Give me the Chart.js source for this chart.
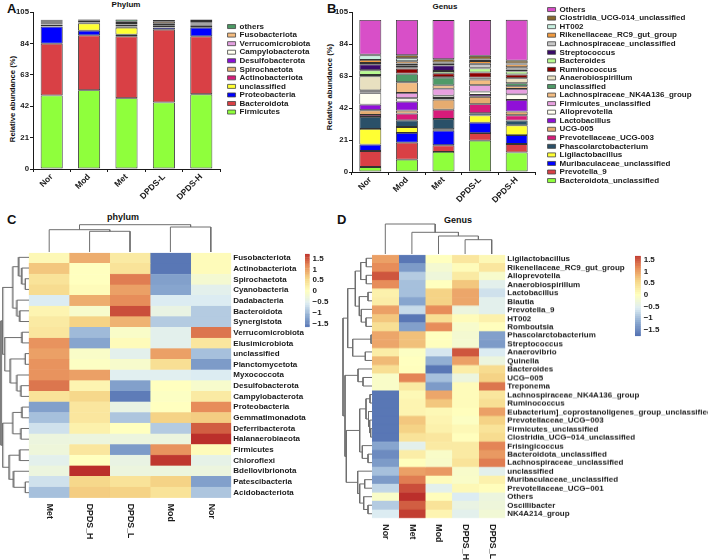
<!DOCTYPE html>
<html>
<head>
<meta charset="utf-8">
<script src="https://cdn.jsdelivr.net/npm/chart.js@4"></script>
<style>
  body { margin: 0; background: #fff; width: 708px; height: 560px; position: relative; overflow: hidden;
         font-family: "Liberation Sans", Arial, sans-serif; color: #111; }
  canvas { position: absolute; }
  .letter { position: absolute; font-size: 13px; font-weight: bold; line-height: 13px; }
  .title { position: absolute; font-weight: bold; line-height: 10px; transform: translateX(-50%); }
  .ylabel { position: absolute; font-size: 7.7px; font-weight: bold; line-height: 10px; white-space: nowrap;
            transform: translate(-50%, -50%) rotate(-90deg); }
</style>
</head>
<body>
<div class="letter" style="left:7px;top:2px">A</div>
<div class="letter" style="left:327px;top:2px">B</div>
<div class="letter" style="left:7px;top:213px">C</div>
<div class="letter" style="left:337px;top:213px">D</div>
<div class="title" style="left:126px;top:0px;font-size:8px">Phylum</div>
<div class="title" style="left:445px;top:2px;font-size:8px">Genus</div>
<div class="title" style="left:123px;top:212px;font-size:9px">phylum</div>
<div class="title" style="left:458px;top:215px;font-size:9px">Genus</div>
<div class="ylabel" style="left:13px;top:99px">Relative abundance (%)</div>
<div class="ylabel" style="left:330px;top:87px">Relative abundance (%)</div>
<script>
const groups = ["Nor", "Mod", "Met", "DPDS-L", "DPDS-H"];
const abundanceTicks = [0, 21, 42, 63, 84, 105];

// stacked bars, bottom of the stack first
const phylumNames = ["Firmicutes", "Bacteroidota", "Proteobacteria", "unclassified", "Actinobacteriota", "Spirochaetota",
  "Desulfobacterota", "Campylobacterota", "Verrucomicrobiota", "Fusobacteriota", "others"];
const phylumColors = ["#8fff3c", "#d94045", "#0000ff", "#ffff33", "#d81b7a", "#e3ad72", "#8b10d8", "#fffff0", "#e3a0e0", "#f4bc80", "#4c9a64"];
const phylumValues = [
  [49.2, 52.7, 47.4, 44.5, 50.0],
  [34.6, 36.7, 41.3, 48.7, 38.7],
  [11.4, 3.1, 1.1, 1.3, 5.8],
  [0.1, 4.9, 4.7, 0.1, 1.3],
  [1.2, 0.3, 0.8, 1.0, 0.8],
  [0.3, 0.3, 0.4, 0.5, 0.3],
  [0.3, 0.3, 1.0, 0.2, 0.4],
  [0.7, 0.6, 0.3, 0.6, 0.4],
  [0.7, 0.6, 0.7, 0.5, 0.5],
  [0.7, 0.3, 0.7, 1.4, 0.7],
  [0.6, 0.3, 1.6, 0.8, 1.1]
];

const genusNames = ["Bacteroidota_unclassified", "Prevotella_9", "Muribaculaceae_unclassified", "Ligilactobacillus",
  "Phascolarctobacterium", "Prevotellaceae_UCG-003", "UCG-005", "Lactobacillus", "Alloprevotella", "Firmicutes_unclassified",
  "Lachnospiraceae_NK4A136_group", "unclassified", "Anaerobiospirillum", "Ruminococcus", "Bacteroides", "Streptococcus",
  "Lachnospiraceae_unclassified", "Rikenellaceae_RC9_gut_group", "HT002", "Clostridia_UCG-014_unclassified", "Others"];
const genusColors = ["#8fff3c", "#d94045", "#0000ff", "#ffff33", "#2a5068", "#d81b7a", "#e6ac70", "#9010d8", "#fffff0", "#e8a0e0",
  "#f2bc82", "#4f9a68", "#e8e0c0", "#8c0000", "#b8fa90", "#3a0a6a", "#c8c8c8", "#f09a40", "#c8f0e0", "#8a6a2e", "#d84fc8"];
const genusValues = [
  [3.3, 8.1, 13.2, 20.6, 12.9],
  [10.5, 11.2, 4.4, 5.0, 5.5],
  [4.2, 6.4, 9.6, 6.8, 5.9],
  [10.3, 3.9, 0.9, 4.8, 6.4],
  [7.9, 4.4, 6.8, 1.5, 3.1],
  [1.3, 4.4, 6.1, 5.9, 3.5],
  [3.1, 2.0, 6.6, 4.8, 2.4],
  [3.7, 5.9, 1.1, 1.3, 7.7],
  [7.5, 2.2, 1.5, 2.2, 3.7],
  [0.4, 3.5, 4.6, 4.2, 3.5],
  [0.9, 7.0, 2.2, 3.7, 1.8],
  [0.6, 5.3, 5.0, 0.9, 2.0],
  [9.2, 0.4, 0.4, 0.4, 3.3],
  [0.9, 3.3, 2.5, 3.4, 2.4],
  [3.1, 0.9, 1.5, 2.6, 2.0],
  [3.9, 1.3, 3.7, 0.4, 1.3],
  [0.9, 1.1, 1.1, 2.6, 1.5],
  [2.0, 1.5, 0.4, 1.8, 1.8],
  [3.0, 2.0, 0.4, 1.1, 0.7],
  [0.4, 2.0, 2.2, 2.4, 1.8],
  [22.9, 23.2, 25.7, 23.5, 26.9]
];

// heatmaps, one row per taxon, z scores
const heatPhylumCols = ["Met", "DPDS_H", "DPDS_L", "Mod", "Nor"];
const heatPhylumRows = ["Fusobacteriota", "Actinobacteriota", "Spirochaetota", "Cyanobacteria", "Dadabacteria", "Bacteroidota",
  "Synergistota", "Verrucomicrobiota", "Elusimicrobiota", "unclassified", "Planctomycetota", "Myxococcota", "Desulfobacterota",
  "Campylobacterota", "Proteobacteria", "Gemmatimonadota", "Deferribacterota", "Halanaerobiaeota", "Firmicutes", "Chloroflexi",
  "Bdellovibrionota", "Patescibacteria", "Acidobacteriota"];
const heatPhylumZ = [
  [0.1, 0.9, 0.3, -1.7, 0.05],
  [0.7, 0, 0.4, -1.7, 0.05],
  [0.4, 0, 1.25, -1.3, -0.2],
  [0.5, 0.05, 1.0, -1.25, -0.5],
  [-0.6, 0.9, 1.15, -0.6, -0.6],
  [0.15, -0.15, 1.55, -0.4, -0.9],
  [0.3, 0.6, 0.85, -0.9, -0.9],
  [0.35, -1.05, -0.1, -0.5, 1.3],
  [1.1, -1.25, 0.05, -0.5, 0.35],
  [1.0, -0.1, -0.5, 1.0, -1.0],
  [1.1, -0.05, -0.15, 0.45, -1.35],
  [1.1, 1.0, -0.55, -0.55, -0.6],
  [1.3, 0.15, -1.3, 0, -0.15],
  [0.4, 0.55, -1.65, -0.05, 0.3],
  [-1.3, 0.35, -0.4, 0, 1.15],
  [-1.0, 0.35, -0.95, 0.6, 0.65],
  [-0.7, 0.2, 0, -0.9, 1.45],
  [-0.35, -0.35, -0.35, -0.35, 1.75],
  [-0.3, 0.35, -1.35, 1.1, 0.05],
  [-0.5, 0, -0.4, 1.7, -0.45],
  [-0.35, 1.75, -0.35, -0.35, -0.35],
  [-0.7, 0.55, 0.4, 0.6, -1.3],
  [-1.0, 0.65, 0.6, 0.4, -0.95]
];

const heatGenusCols = ["Nor", "Met", "Mod", "DPDS_H", "DPDS_L"];
const heatGenusRows = ["Ligilactobacillus", "Rikenellaceae_RC9_gut_group", "Alloprevotella", "Anaerobiospirillum", "Lactobacillus",
  "Blautia", "Prevotella_9", "HT002", "Romboutsia", "Phascolarctobacterium", "Streptococcus", "Anaerovibrio", "Quinella",
  "Bacteroides", "UCG−005", "Treponema", "Lachnospiraceae_NK4A136_group", "Ruminococcus",
  "Eubacterium]_coprostanoligenes_group_unclassified", "Prevotellaceae_UCG−003", "Firmicutes_unclassified",
  "Clostridia_UCG−014_unclassified", "Frisingicoccus", "Bacteroidota_unclassified", "Lachnospiraceae_unclassified", "unclassified",
  "Muribaculaceae_unclassified", "Prevotellaceae_UCG−001", "Others", "Oscillibacter", "NK4A214_group"];
const heatGenusZ = [
  [1.0, -1.7, 0, 0.35, 0.1],
  [1.15, -1.35, -0.2, 0.05, 0.35],
  [1.5, -0.9, -0.3, 0.3, -0.15],
  [1.15, -1.0, 0, 0.7, -0.5],
  [0.2, -1.0, 0.6, 0.95, -0.7],
  [0.25, -1.25, 0.6, 0.95, -0.5],
  [1.0, -0.75, 1.15, -0.35, -0.5],
  [0.7, -1.7, 0.45, 0.05, 0.2],
  [0.45, -1.3, 1.15, -0.15, 0.02],
  [0.95, 0.75, 0, -0.2, -1.3],
  [0.95, 0.75, 0.02, -0.2, -1.35],
  [0.25, -0.05, -0.65, 1.5, -0.6],
  [0.8, 0, -1.15, 1.0, -0.35],
  [0.45, 0.02, -1.7, 0.25, 0.5],
  [-0.1, 1.2, -1.0, -0.35, 0.6],
  [-0.1, 0.3, -1.35, 0.05, 1.3],
  [-1.7, 0.1, 0.95, 0.05, 0.35],
  [-1.7, 0.15, 0.7, 0.05, 0.45],
  [-1.7, 0.15, 0.1, 0.02, 1.0],
  [-1.7, 0.7, 0.15, -0.05, 0.6],
  [-1.7, 0.6, 0.2, 0.1, 0.4],
  [-1.7, 0.4, 0.35, 0.02, 0.5],
  [-1.25, -0.5, 0.3, 0.3, 1.2],
  [-1.5, 0.25, -0.1, 0.3, 1.05],
  [-1.35, 0.02, -0.12, 0.4, 1.25],
  [-1.0, 1.0, 1.05, -0.12, -0.5],
  [-1.35, 1.25, 0.05, -0.1, 0.2],
  [-0.8, 1.55, -0.5, 0.1, 0.03],
  [-0.1, 1.75, 0.03, -0.6, -0.35],
  [-0.9, 1.45, 0.4, -0.4, -0.3],
  [-0.6, 1.65, 0.15, -0.5, -0.25]
];

// dendrograms as merge lists like hclust: positive = leaf number, negative = earlier merge, last = height
const phylumColMerges = [[2, 3, 20.7], [1, -1, 22.3], [4, 5, 25], [-2, -3, 27.3]];
const genusColMerges = [[4, 5, 14.3], [3, -1, 18], [2, -2, 21.7], [1, -3, 30]];
const phylumRowMerges = [[3, 4, 3.7], [2, -1, 7.3], [1, -2, 10.3], [6, 7, 9.3], [5, -4, 12], [-3, -5, 16], [8, 9, 7], [10, 11, 3.7],
  [13, 14, 8], [12, -9, 12], [-8, -10, 18.7], [-7, -11, 24], [-6, -12, 26], [15, 16, 7], [17, 18, 8], [-14, -15, 16], [19, 20, 9.3],
  [22, 23, 3.7], [21, -18, 15.3], [-17, -19, 19.7], [-16, -20, 26], [-13, -21, 27.7]];
const genusRowMerges = [[1, 2, 5.7], [3, 4, 5.7], [-1, -2, 11.3], [5, 6, 4], [8, 9, 6], [7, -5, 10.7], [-4, -6, 12.7], [-3, -7, 16.7],
  [10, 11, 1], [12, 13, 6.7], [-9, -10, 19.3], [-8, -11, 24.3], [15, 16, 9], [14, -13, 14], [21, 22, 1.3], [20, -15, 2.3], [19, -16, 3.5],
  [17, 18, 2], [-18, -17, 6], [24, 25, 4], [23, -20, 9.7], [-19, -21, 12.3], [30, 31, 4], [29, -23, 8.3], [27, 28, 7.3], [-25, -24, 12.3],
  [26, -26, 14.3], [-22, -27, 25.7], [-14, -28, 27], [-12, -29, 29]];

const colorbarTicks = [1.5, 1, 0.5, 0, -0.5, -1, -1.5];
const heatStops = [-1.75, -1.17, -0.58, 0, 0.58, 1.17, 1.75];
const heatColors = [[84, 114, 178], [143, 173, 210], [223, 238, 243], [255, 255, 191], [246, 214, 136], [230, 138, 88], [187, 47, 43]];

const FONT = '"Liberation Sans", Arial, sans-serif';
const INK = "#1a1a1a";
Chart.defaults.animation = false;
Chart.defaults.responsive = false;
Chart.defaults.devicePixelRatio = 1;
Chart.defaults.font.family = FONT;
Chart.defaults.color = INK;
Chart.defaults.plugins.legend.display = false;
Chart.defaults.plugins.tooltip.enabled = false;

function addCanvas(left, top, width, height) {
  const canvas = document.createElement("canvas");
  canvas.width = width;
  canvas.height = height;
  canvas.style.left = left + "px";
  canvas.style.top = top + "px";
  canvas.style.width = width + "px";
  canvas.style.height = height + "px";
  document.body.appendChild(canvas);
  return canvas;
}

function zColor(z) {
  let i = 0;
  while (i < heatStops.length - 2 && z > heatStops[i + 1]) i++;
  const t = Math.min(1, Math.max(0, (z - heatStops[i]) / (heatStops[i + 1] - heatStops[i])));
  const rgb = heatColors[i].map((c, k) => Math.round(c + (heatColors[i + 1][k] - c) * t));
  return "rgb(" + rgb.join(",") + ")";
}

function renderStack(box, names, colors, values, axisWidth, barFraction) {
  new Chart(addCanvas(box.left, 0, box.width, 205), {
    type: "bar",
    data: {
      labels: groups,
      datasets: names.map((name, i) => ({
        label: name,
        data: values[i],
        backgroundColor: colors[i],
        borderColor: "#333",
        borderWidth: 0.9,
        borderSkipped: false,
        barPercentage: barFraction,
        categoryPercentage: 1
      }))
    },
    options: {
      layout: { padding: { top: box.top, right: box.right } },
      scales: {
        x: {
          stacked: true,
          grid: { drawOnChartArea: false, tickLength: 3, color: INK },
          border: { color: INK, width: 1 },
          ticks: { font: { size: 8.5, weight: "bold" }, minRotation: 45, maxRotation: 45, padding: 0 },
          afterFit: scale => { scale.height = 205 - box.bottom; }
        },
        y: {
          stacked: true,
          min: 0,
          max: 105,
          grid: { drawOnChartArea: false, tickLength: 3, color: INK },
          border: { color: INK, width: 1 },
          ticks: { font: { size: 7.8, weight: "bold" }, padding: 1 },
          afterBuildTicks: scale => { scale.ticks = abundanceTicks.map(v => ({ value: v })); },
          afterFit: scale => { scale.width = axisWidth; }
        }
      }
    }
  });
}

// legend gets its own small chart so the bars keep a fixed plot area
function renderLegend(left, top, height, names, colors) {
  new Chart(addCanvas(left, top, 300, height), {
    type: "bar",
    data: {
      datasets: names.map((name, i) => ({ label: name, data: [], backgroundColor: colors[i], borderColor: "#444", borderWidth: 0.8 }))
    },
    options: {
      scales: { x: { display: false }, y: { display: false } },
      plugins: {
        legend: {
          display: true,
          position: "left",
          align: "start",
          reverse: true,
          onClick: null,
          labels: { boxWidth: 8, boxHeight: 4, padding: 0.55, color: INK, font: { size: 8, weight: "bold", lineHeight: 1 } }
        }
      }
    }
  });
}

const columnLabels = {
  id: "columnLabels",
  afterDraw(chart) {
    const ctx = chart.ctx;
    ctx.save();
    ctx.font = "bold 8.8px " + FONT;
    ctx.fillStyle = INK;
    ctx.textAlign = "left";
    ctx.textBaseline = "middle";
    chart.data.datasets.forEach((ds, c) => {
      ctx.save();
      ctx.translate(chart.scales.x.getPixelForValue(c + 0.5), chart.chartArea.bottom + 6);
      ctx.rotate(Math.PI / 2);
      ctx.fillText(ds.label, 0, 0);
      ctx.restore();
    });
    ctx.restore();
  }
};

function renderHeat(area, rows, cols, z, fontSize) {
  const top = area.top - 6;
  new Chart(addCanvas(0, top, 708, 560 - top), {
    type: "bar",
    data: {
      labels: rows,
      datasets: cols.map((col, c) => {
        const cellColors = rows.map((_, r) => zColor(z[r][c]));
        return {
          label: col,
          data: rows.map(() => 1),
          backgroundColor: cellColors,
          borderColor: cellColors,
          borderWidth: 0.4,
          borderSkipped: false,
          barPercentage: 1,
          categoryPercentage: 1
        };
      })
    },
    options: {
      indexAxis: "y",
      layout: { padding: { left: area.left, top: 6, bottom: 560 - area.bottom } },
      scales: {
        x: { stacked: true, display: false, min: 0, max: cols.length },
        y: {
          stacked: true,
          position: "right",
          grid: { display: false, drawTicks: false },
          border: { display: false },
          ticks: { autoSkip: false, padding: 2, font: { size: fontSize, weight: "bold" }, color: INK },
          afterFit: scale => { scale.width = 708 - area.right; }
        }
      }
    },
    plugins: [columnLabels]
  });
}

function dendroPaths(merges, vertical) {
  const nodes = [];
  const lookup = id => (id > 0 ? { pos: id - 0.5, h: 0 } : nodes[-id - 1]);
  return merges.map(([a, b, h]) => {
    const left = lookup(a);
    const right = lookup(b);
    nodes.push({ pos: (left.pos + right.pos) / 2, h: h });
    const path = [[left.pos, left.h], [left.pos, h], [right.pos, h], [right.pos, right.h]];
    return {
      data: path.map(([pos, height]) => (vertical ? { x: height, y: pos } : { x: pos, y: height })),
      showLine: true,
      pointRadius: 0,
      borderColor: "#6e6e6e",
      borderWidth: 1,
      clip: false
    };
  });
}

function renderDendro(box, merges, count, vertical) {
  const posScale = { display: false, min: 0, max: count, reverse: vertical };
  const heightScale = { display: false, min: 0, max: vertical ? box.width : box.height, reverse: vertical };
  new Chart(addCanvas(box.left, box.top, box.width, box.height), {
    type: "scatter",
    data: { datasets: dendroPaths(merges, vertical) },
    options: { scales: vertical ? { x: heightScale, y: posScale } : { x: posScale, y: heightScale } }
  });
}

function renderColorbar(box, zMin, zMax) {
  const steps = [];
  for (let i = 0; i < 40; i++) steps.push([zMin + (zMax - zMin) * i / 40, zMin + (zMax - zMin) * (i + 1) / 40]);
  new Chart(addCanvas(box.left - 4, box.top - 6, 40, box.height + 12), {
    type: "bar",
    data: {
      labels: ["z"],
      datasets: steps.map(s => ({
        data: [s],
        backgroundColor: zColor((s[0] + s[1]) / 2),
        borderColor: zColor((s[0] + s[1]) / 2),
        borderWidth: 0.3,
        borderSkipped: false,
        grouped: false,
        barPercentage: 1,
        categoryPercentage: 1
      }))
    },
    options: {
      layout: { padding: { left: 4, top: 6, bottom: 6 } },
      scales: {
        x: { display: false },
        y: {
          position: "right",
          min: zMin,
          max: zMax,
          grid: { display: false, drawTicks: false },
          border: { display: false },
          ticks: {
            padding: 3,
            font: { size: 8, weight: "bold" },
            callback: v => String(v).replace("-", "−")
          },
          afterBuildTicks: scale => { scale.ticks = colorbarTicks.map(v => ({ value: v })); },
          afterFit: scale => { scale.width = 36 - box.width; }
        }
      }
    }
  });
}

renderStack({ left: 0, width: 225, top: 12, right: 5, bottom: 169 }, phylumNames, phylumColors, phylumValues, 33, 0.59);
renderStack({ left: 320, width: 218, top: 12.3, right: 3, bottom: 172 }, genusNames, genusColors, genusValues, 32, 0.6);
renderLegend(226.8, 22.3, 95, phylumNames, phylumColors);
renderLegend(547.2, 5, 185, genusNames, genusColors);

renderHeat({ left: 28.7, right: 231.3, top: 251.7, bottom: 497.7 }, heatPhylumRows, heatPhylumCols, heatPhylumZ, 8);
renderHeat({ left: 372, right: 505.3, top: 254.3, bottom: 518.3 }, heatGenusRows, heatGenusCols, heatGenusZ, 8);

renderDendro({ left: 28.7, top: 222.7, width: 202.6, height: 29 }, phylumColMerges, 5, false);
renderDendro({ left: 372, top: 223.3, width: 133.3, height: 31 }, genusColMerges, 5, false);
renderDendro({ left: 0, top: 251.7, width: 28.7, height: 246 }, phylumRowMerges, 23, true);
renderDendro({ left: 342, top: 254.3, width: 30, height: 264 }, genusRowMerges, 31, true);

renderColorbar({ left: 304.7, top: 251.7, width: 4.6, height: 77.3 }, -1.68, 1.73);
renderColorbar({ left: 635, top: 254.3, width: 5.7, height: 84 }, -1.79, 1.68);
</script>
</body>
</html>
